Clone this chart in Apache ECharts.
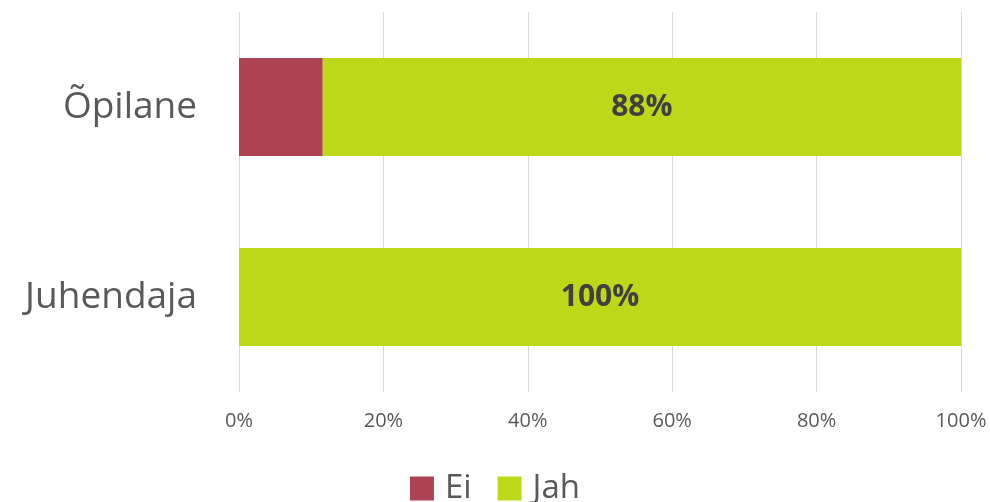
<!DOCTYPE html>
<html>
<head>
<meta charset="utf-8">
<script src="https://cdn.jsdelivr.net/npm/echarts@6/dist/echarts.min.js"></script>
<style>
  html, body { margin: 0; padding: 0; background: #fff; }
  #chart { width: 990px; height: 502px; }
</style>
</head>
<body>
<div id="chart"></div>
<script>
// kategooriad ja väärtused (protsendid)
const categories = ['Õpilane', 'Juhendaja'];
const eiValues = [11.6, 0];
const jahValues = [88.4, 100];
const tickLabels = ['0%', '20%', '40%', '60%', '80%', '100%'];

const chart = echarts.init(document.getElementById('chart'));

const option = {
  animation: false,
  textStyle: { fontFamily: 'Open Sans' },
  grid: { left: 239, right: 29, top: 12, bottom: 110 },
  legend: {
    top: 467,
    left: 'center',
    itemWidth: 24,
    itemHeight: 24,
    itemGap: 26,
    icon: 'rect',
    textStyle: { fontSize: 33, color: '#595959', fontFamily: 'Open Sans', padding: [0, 0, 0, 6] },
    data: ['Ei', 'Jah']
  },
  xAxis: {
    type: 'value',
    min: 0,
    max: 100,
    interval: 20,
    axisLine: { show: false },
    axisTick: { show: false },
    splitLine: { lineStyle: { color: '#d9d9d9', width: 1 } },
    axisLabel: {
      fontSize: 20,
      color: '#595959',
      margin: 19,
      formatter: (v) => tickLabels[v / 20]
    }
  },
  yAxis: {
    type: 'category',
    inverse: true,
    data: categories,
    axisLine: { show: false },
    axisTick: { show: false },
    axisLabel: { fontSize: 37, color: '#595959', margin: 42 }
  },
  series: [
    {
      name: 'Ei',
      type: 'bar',
      stack: 'total',
      barWidth: 98,
      itemStyle: { color: '#AD4253' },
      data: eiValues
    },
    {
      name: 'Jah',
      type: 'bar',
      stack: 'total',
      barWidth: 98,
      itemStyle: { color: '#BDD719' },
      label: {
        show: true,
        position: 'inside',
        fontSize: 30,
        fontWeight: 'bold',
        color: '#404040',
        formatter: (p) => Math.round(p.value) + '%'
      },
      data: jahValues
    }
  ]
};

chart.setOption(option);
</script>
</body>
</html>
